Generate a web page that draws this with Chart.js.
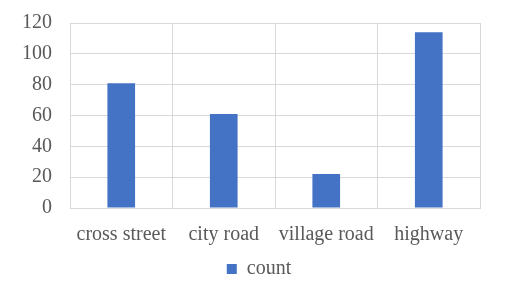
<!DOCTYPE html>
<html>
<head>
<meta charset="utf-8">
<script src="https://cdn.jsdelivr.net/npm/chart.js@4"></script>
<style>
  html, body { margin: 0; padding: 0; background: #fff; }
  #wrap { width: 514px; height: 284px; }
</style>
</head>
<body>
<div id="wrap"><canvas id="chart" width="514" height="284"></canvas></div>
<script>
const categories = ["cross street", "city road", "village road", "highway"];
const countValues = [81, 61, 22, 114];
const yTicks = [0, 20, 40, 60, 80, 100, 120];

const font = { family: "'Liberation Serif', 'Times New Roman', serif", size: 20 };
const gridColor = "#d9d9d9";
const textColor = "#595959";

// nudge the legend so it sits where the original one does
const legendShift = {
  id: "legendShift",
  afterLayout(chart) {
    const lg = chart.legend;
    if (!lg) return;
    const dx = 19;
    const dy = 5;
    lg.left += dx;
    lg.right += dx;
    lg.top += dy;
    lg.bottom += dy;
  },
};

new Chart(document.getElementById("chart"), {
  type: "bar",
  data: {
    labels: categories,
    datasets: [
      {
        label: "count",
        data: countValues,
        backgroundColor: "#4472c4",
        barPercentage: 0.27,
        categoryPercentage: 1,
      },
    ],
  },
  options: {
    responsive: false,
    animation: false,
    layout: { padding: { top: 23, right: 34, left: 0, bottom: 0 } },
    scales: {
      x: {
        grid: { color: gridColor, lineWidth: 1, drawTicks: false },
        border: { color: gridColor },
        ticks: { color: textColor, font: font, padding: 15 },
        afterFit: (scale) => {
          scale.height = 40;
          scale.paddingLeft = 0;
          scale.paddingRight = 0;
        },
      },
      y: {
        min: 0,
        max: 120,
        afterBuildTicks: (scale) => {
          scale.ticks = yTicks.map((v) => ({ value: v }));
        },
        grid: { color: gridColor, lineWidth: 1, drawTicks: false },
        border: { color: gridColor },
        ticks: { color: textColor, font: font, padding: 18 },
        afterFit: (scale) => {
          scale.width = 70;
          scale.paddingTop = 0;
          scale.paddingBottom = 0;
        },
      },
    },
    plugins: {
      legend: {
        position: "bottom",
        labels: {
          color: textColor,
          font: font,
          boxWidth: 10,
          boxHeight: 10,
          padding: 6,
        },
      },
      tooltip: { enabled: false },
    },
  },
  plugins: [legendShift],
});
</script>
</body>
</html>
